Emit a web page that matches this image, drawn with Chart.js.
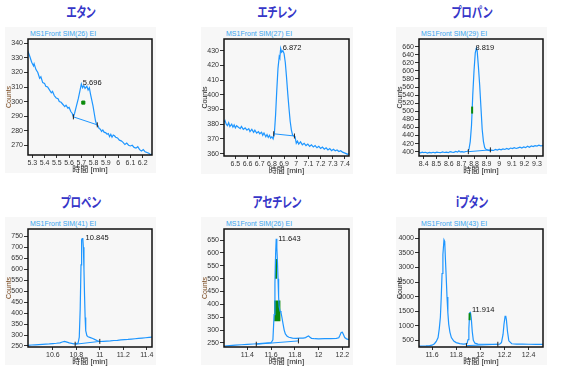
<!DOCTYPE html>
<html><head><meta charset="utf-8">
<script src="https://cdn.jsdelivr.net/npm/chart.js@4.4.1/dist/chart.umd.min.js"></script>
<style>
html,body{margin:0;padding:0;background:#fff;}
#root{position:relative;width:561px;height:380px;overflow:hidden;background:#fff;}
.bg{position:absolute;background:#f7f7f7;}
.ttl{position:absolute;font-family:"Noto Sans CJK JP";font-weight:bold;font-size:14px;color:#3636c8;white-space:nowrap;transform:translate(-50%,-50%) scaleX(0.75);font-feature-settings:"palt";line-height:1;}
.sub{position:absolute;font-family:"Liberation Sans",Arial,sans-serif;font-size:7px;color:#3aa4ee;white-space:nowrap;transform:translateY(-50%);line-height:1;}
canvas{position:absolute;}
</style></head>
<body><div id="root"></div>
<script>
// ---------- data ----------
const titles = ['エタン','エチレン','プロパン','プロペン','アセチレン','iブタン'];
const subtitles = ['MS1Front SIM(26) EI','MS1Front SIM(27) EI','MS1Front SIM(29) EI','MS1Front SIM(41) EI','MS1Front SIM(26) EI','MS1Front SIM(43) EI'];
const peakLabels = ['5.696','6.872','8.819','10.845','11.643','11.914'];
const peakLabelTime = [5.696, 6.872, 8.819, 10.845, 11.643, 11.914];
const peakLabelCounts = [313, 432, 656, 745, 655, 1530];

const ethaneTime = [5.265,5.28,5.295,5.31,5.315,5.33,5.345,5.36,5.37,5.385,
 5.40,5.41,5.425,5.44,5.455,5.465,5.48,5.495,5.51,5.52,
 5.535,5.55,5.565,5.575,5.59,5.60,5.615,5.625,5.635,5.645,
 5.66,5.675,5.69,5.70,5.71,5.72,5.73,5.745,5.755,5.765,
 5.775,5.785,5.795,5.805,5.815,5.825,5.835,5.845,5.855,5.865,
 5.875,5.885,5.90,5.91,5.92,5.93,5.94,5.95,5.96,5.97,
 5.98,5.995,6.01,6.025,6.04,6.055,6.07,6.085,6.10,6.115,
 6.13,6.145,6.16,6.175,6.19,6.205,6.22,6.235,6.25,6.265,
 6.276];
const ethaneCounts = [334.5,331,327,324.5,326,322,320,316,317,313,
 312.5,310.5,310,308,306,307,304,302.5,302,300,
 299.5,298,296.5,297.5,295.5,296,293,292,289.5,292,
 297,302,308,312,309.5,311,309,310.5,308,309.5,
 305,301,297,292,287,284,283.5,281.5,281,279.5,
 280.5,279,278.5,277.5,278,276,277.5,275.5,277,276.5,
 275.5,275,273.5,273,272,270.5,271.5,270,269.5,270,
 268.5,268,269,267,266,267,265.5,265,264.5,263.5,
 264];
const ethaneBaseTime = [5.635, 5.83];
const ethaneBaseCounts = [289.5, 284];
const ethaneMarkTime = [5.716];
const ethaneMarkCounts = [299.3];
const ethaneXTicks = [5.3,5.4,5.5,5.6,5.7,5.8,5.9,6,6.1,6.2];
const ethaneYTicks = [270,280,290,300,310,320,330,340];

const ethyleneTime = [6.407,6.415,6.425,6.435,6.445,6.455,6.47,6.48,6.49,6.50,
 6.51,6.525,6.54,6.55,6.565,6.58,6.595,6.61,6.62,6.635,
 6.65,6.66,6.675,6.69,6.70,6.715,6.725,6.735,6.75,6.76,
 6.77,6.78,6.79,6.80,6.81,6.82,6.83,6.84,6.85,6.86,
 6.865,6.872,6.88,6.89,6.90,6.91,6.92,6.93,6.94,6.95,
 6.96,6.97,6.98,6.99,7.00,7.01,7.02,7.035,7.05,7.065,
 7.08,7.095,7.11,7.125,7.14,7.155,7.17,7.185,7.20,7.215,
 7.23,7.245,7.26,7.275,7.29,7.305,7.32,7.335,7.35,7.365,
 7.38,7.395,7.41,7.42,7.433];
const ethyleneCounts = [381.5,382.5,380,379,381,378.5,380,378,379.5,377.5,
 379,378,377,378.5,376.5,377.5,376,377,375,376.5,
 374.5,376,374,375,373.5,374.5,372.5,374,371.5,373,
 371,372.5,370.5,371.5,370,373.5,386,403,418,426,
 425,431.5,429,430,428,422,412,401,391,382,
 376,372.5,372,371.5,367,368.5,366.5,368,366,367,
 365.5,366.5,365,366,364.5,365.5,364,365,363.5,364.5,
 363,364,362.5,363.5,362,363,362,362.5,361.5,362,
 361,360.5,360,359.5,360];
const ethyleneBaseTime = [6.815, 6.985];
const ethyleneBaseCounts = [373.5, 372];
const ethyleneXTicks = [6.5,6.6,6.7,6.8,6.9,7,7.1,7.2,7.3,7.4];
const ethyleneYTicks = [360,370,380,390,400,410,420,430];

const propaneTime = [8.363,8.375,8.39,8.40,8.415,8.43,8.445,8.46,8.475,8.49,
 8.505,8.52,8.535,8.55,8.565,8.58,8.595,8.61,8.625,8.64,
 8.655,8.67,8.68,8.69,8.705,8.72,8.735,8.75,8.76,8.77,
 8.78,8.79,8.80,8.81,8.819,8.825,8.835,8.845,8.855,8.865,
 8.875,8.885,8.895,8.91,8.925,8.94,8.955,8.97,8.985,9.00,
 9.015,9.03,9.045,9.06,9.075,9.09,9.105,9.12,9.135,9.15,
 9.165,9.18,9.195,9.21,9.225,9.24,9.255,9.27,9.285,9.30,
 9.315,9.33,9.348];
const propaneCounts = [398,397,399,397.5,398.5,396.5,398,397,398.5,397,
 399,398,397.5,399.5,398,399,397.5,400,399,398.5,
 400.5,399,402,399.5,400,399,400.5,401,406,425,
 465,540,600,645,656,650,610,565,510,455,
 425,410,406,404,402.5,404,403,405.5,404,406,
 404.5,407,405.5,408,406,409,407.5,410,408,409.5,
 411,409,412,410,413.5,411,414,412.5,415,414,
 416,414.5,415];
const propaneBaseTime = [8.755, 8.93];
const propaneBaseCounts = [400, 404.5];
const propaneMarkTime = [8.785];
const propaneMarkCounts = [503];
const propaneXTicks = [8.4,8.5,8.6,8.7,8.8,8.9,9,9.1,9.2,9.3];
const propaneYTicks = [400,420,440,460,480,500,520,540,560,580,600,620,640,660];

const propeneTime = [10.388,10.42,10.45,10.48,10.51,10.54,10.57,10.60,10.63,10.66,
 10.68,10.70,10.72,10.74,10.76,10.78,10.80,10.815,10.825,10.833,
 10.84,10.845,10.85,10.855,10.86,10.865,10.87,10.875,10.88,10.89,
 10.90,10.92,10.94,10.96,10.98,11.00,11.03,11.06,11.09,11.12,
 11.15,11.18,11.21,11.24,11.27,11.30,11.33,11.36,11.39,11.42,
 11.445];
const propeneCounts = [253,254.5,255.5,256.5,257.5,258.5,259.5,261,262.5,264.5,
 268,271,267.5,264,262,260,260.5,263,290,420,
 620,735,740,742,700,600,480,380,320,297,
 292,288,284,279,274,270.5,271.5,272.5,273.5,275,
 276,277.5,279,280,281.5,283,284.5,286,287.5,289,
 290];
const propeneBaseTime = [10.79, 11.0];
const propeneBaseCounts = [258, 271];
const propeneXTicks = [10.6,10.8,11,11.2,11.4];
const propeneYTicks = [250,300,350,400,450,500,550,600,650,700,750];

const acetyleneTime = [11.203,11.25,11.30,11.35,11.40,11.45,11.50,11.55,11.60,11.615,
 11.625,11.632,11.638,11.643,11.648,11.653,11.658,11.663,11.668,11.675,
 11.683,11.69,11.70,11.71,11.72,11.735,11.75,11.78,11.81,11.84,
 11.87,11.89,11.905,11.915,11.925,11.94,11.97,12.00,12.05,12.10,
 12.15,12.17,12.18,12.19,12.20,12.21,12.22,12.235,12.256];
const acetyleneCounts = [238,240,241.5,243,244.5,246,247.5,249,251,262,
 360,480,600,655,620,570,500,430,390,374,
 368,352,325,300,285,276,272,269,268,268.5,
 269,271,275,277,273,268,266.5,266,266.5,267,
 268,270,280,291,292,282,271,266,263];
const acetyleneBaseTime = [11.475, 11.83];
const acetyleneBaseCounts = [245, 258];
const acetyleneAreaTime = [[11.625, 11.68], [11.631, 11.65]];
const acetyleneAreaTop = [415, 577];
const acetyleneAreaBottom = [334, 500];
const acetyleneXTicks = [11.4,11.6,11.8,12,12.2];
const acetyleneYTicks = [250,300,350,400,450,500,550,600,650];

const ibutaneTime = [11.492,11.52,11.55,11.58,11.60,11.62,11.635,11.65,11.66,11.669,
 11.676,11.683,11.69,11.699,11.705,11.71,11.717,11.724,11.731,11.738,
 11.748,11.76,11.78,11.80,11.83,11.86,11.88,11.89,11.898,11.905,
 11.912,11.918,11.925,11.933,11.942,11.955,11.98,12.03,12.08,12.13,
 12.16,12.175,12.188,12.196,12.205,12.21,12.216,12.225,12.236,12.26,
 12.30,12.35,12.40,12.46,12.519];
const ibutaneCounts = [300,302,306,315,330,380,460,593,900,1288,
 1950,2795,3450,3954,3900,3374,2700,1983,1450,1056,
 780,593,470,420,385,370,372,390,520,900,
 1450,1460,1250,800,500,400,370,362,360,362,
 368,420,700,1050,1320,1335,1200,800,480,380,
 368,365,362,360,358];
const ibutaneBaseTime = [11.885, 12.145];
const ibutaneBaseCounts = [315, 362];
const ibutaneMarkTime = [11.911];
const ibutaneMarkCounts = [1310];
const ibutaneXTicks = [11.6,11.8,12,12.2,12.4];
const ibutaneYTicks = [500,1000,1500,2000,2500,3000,3500,4000];

// axis ranges [min, max]
const xRanges = [[5.265,6.276],[6.4067,7.433],[8.363,9.348],[10.388,11.445],[11.203,12.256],[11.492,12.519]];
const yRanges = [[263.3,343],[358.4,437.95],[389.3,679],[245.4,783.5],[234.3,693.3],[268,4324.5]];

// ---------- layout / style ----------
const BLUE = '#1e96ff';
const GREEN = '#0a8a0a';
const FONT = '"Liberation Sans", Arial, "Noto Sans CJK JP", sans-serif';
const plotRects = [[28,39,152,155],[224,39,349,156],[419,39,543,156],[28,229,152,347],[224,229,349,347],[419,229,543,347]];
const countsColors = ['#7a4a20','#222','#222','#7a4a20','#7a4a20','#222'];
const labelDx = [2,2,-1,4,2,2];

const framePlugin = {
  id: 'frame',
  afterDatasetsDraw(chart) {
    const a = chart.chartArea, ctx = chart.ctx;
    ctx.save();
    ctx.strokeStyle = '#111';
    ctx.lineWidth = 1.5;
    ctx.strokeRect(a.left, a.top, a.right - a.left, a.bottom - a.top);
    ctx.restore();
  }
};
const peakPlugin = {
  id: 'peakText',
  afterDatasetsDraw(chart, args, opts) {
    if (!opts || !opts.text) return;
    const ctx = chart.ctx;
    const px = chart.scales.x.getPixelForValue(opts.x) + opts.dx;
    const py = chart.scales.y.getPixelForValue(opts.y);
    ctx.save();
    ctx.font = '7.5px ' + FONT;
    ctx.fillStyle = '#111';
    ctx.textAlign = 'left';
    ctx.textBaseline = 'middle';
    ctx.fillText(opts.text, px, py);
    ctx.restore();
  }
};

function pts(xs, ys) { return xs.map((x, i) => ({x: x, y: ys[i]})); }

const series = [
  {t: ethaneTime, c: ethaneCounts, bt: ethaneBaseTime, bc: ethaneBaseCounts, xt: ethaneXTicks, yt: ethaneYTicks},
  {t: ethyleneTime, c: ethyleneCounts, bt: ethyleneBaseTime, bc: ethyleneBaseCounts, xt: ethyleneXTicks, yt: ethyleneYTicks},
  {t: propaneTime, c: propaneCounts, bt: propaneBaseTime, bc: propaneBaseCounts, xt: propaneXTicks, yt: propaneYTicks},
  {t: propeneTime, c: propeneCounts, bt: propeneBaseTime, bc: propeneBaseCounts, xt: propeneXTicks, yt: propeneYTicks},
  {t: acetyleneTime, c: acetyleneCounts, bt: acetyleneBaseTime, bc: acetyleneBaseCounts, xt: acetyleneXTicks, yt: acetyleneYTicks},
  {t: ibutaneTime, c: ibutaneCounts, bt: ibutaneBaseTime, bc: ibutaneBaseCounts, xt: ibutaneXTicks, yt: ibutaneYTicks}
];

const root = document.getElementById('root');
const A = 28, PT = 6, PR = 6, PB = 2, XH = 20;

series.forEach((s, i) => {
  const [L, T, R, B] = plotRects[i];
  const bg = document.createElement('div');
  bg.className = 'bg';
  bg.style.left = (L - 23) + 'px'; bg.style.top = (T - 12) + 'px';
  bg.style.width = (R + 4 - (L - 23)) + 'px'; bg.style.height = (B + 18 - (T - 12)) + 'px';
  root.appendChild(bg);

  const tt = document.createElement('div');
  tt.className = 'ttl'; tt.textContent = titles[i];
  tt.style.left = ((L - 23 + R + 4) / 2) + 'px'; tt.style.top = (T - 28) + 'px';
  root.appendChild(tt);

  const sb = document.createElement('div');
  sb.className = 'sub'; sb.textContent = subtitles[i];
  sb.style.left = (L + 2) + 'px'; sb.style.top = (T - 6) + 'px';
  root.appendChild(sb);

  const cv = document.createElement('canvas');
  const W = R - L + A + PR, H = B - T + PT + XH + PB;
  cv.width = W; cv.height = H;
  cv.style.left = (L - A) + 'px'; cv.style.top = (T - PT) + 'px';
  cv.style.width = W + 'px'; cv.style.height = H + 'px';
  root.appendChild(cv);

  const datasets = [];
  if (i === 4) {
    acetyleneAreaTime.forEach((xs, k) => {
      datasets.push({
        data: pts(xs, [acetyleneAreaTop[k], acetyleneAreaTop[k]]),
        borderWidth: 0, pointRadius: 0, backgroundColor: GREEN,
        fill: {value: acetyleneAreaBottom[k]}, order: 3
      });
    });
  }
  datasets.push({
    data: pts(s.t, s.c), borderColor: BLUE, borderWidth: 1.2, pointRadius: 0,
    tension: 0, fill: false, order: 2
  });
  datasets.push({
    data: pts(s.bt, s.bc), borderColor: BLUE, borderWidth: 1, fill: false,
    pointStyle: 'line', rotation: 90, pointRadius: 2.5, pointBorderColor: '#222',
    pointBorderWidth: 1, order: 1
  });
  if (i === 0) {
    datasets.push({data: pts(ethaneMarkTime, ethaneMarkCounts), showLine: false,
      pointStyle: 'rect', pointRadius: 2.2, pointBackgroundColor: GREEN, pointBorderColor: GREEN, order: 0});
  }
  if (i === 2) {
    datasets.push({data: pts(propaneMarkTime, propaneMarkCounts), showLine: false,
      pointStyle: 'line', rotation: 90, pointRadius: 3.5, pointBorderColor: GREEN, pointBorderWidth: 2, order: 0});
  }
  if (i === 5) {
    datasets.push({data: pts(ibutaneMarkTime, ibutaneMarkCounts), showLine: false,
      pointStyle: 'line', rotation: 90, pointRadius: 3.5, pointBorderColor: GREEN, pointBorderWidth: 2, order: 0});
  }

  const [xmin, xmax] = xRanges[i];
  const [ymin, ymax] = yRanges[i];
  new Chart(cv, {
    type: 'line',
    data: {datasets},
    options: {
      responsive: false, animation: false, devicePixelRatio: 1,
      layout: {padding: {left: 0, top: PT, right: PR, bottom: PB}},
      plugins: {
        legend: {display: false}, tooltip: {enabled: false},
        peakText: {text: peakLabels[i], x: peakLabelTime[i], y: peakLabelCounts[i], dx: labelDx[i]}
      },
      scales: {
        x: {
          type: 'linear', min: xmin, max: xmax, bounds: 'data',
          afterBuildTicks: sc => { sc.ticks = s.xt.map(v => ({value: v})); },
          afterFit: sc => { sc.height = XH; },
          ticks: {autoSkip: false, maxRotation: 0, minRotation: 0, padding: 1,
            callback: (v) => String(v),
            font: {size: 7, family: FONT}, color: '#333'},
          grid: {display: true, drawOnChartArea: false, drawTicks: true, tickLength: 3, color: '#333'},
          border: {display: false},
          title: {display: true, text: '時間 [min]', font: {size: 8, family: FONT}, color: '#222', padding: {top: 0, bottom: 0}}
        },
        y: {
          type: 'linear', min: ymin, max: ymax, bounds: 'data',
          afterBuildTicks: sc => { sc.ticks = s.yt.map(v => ({value: v})); },
          afterFit: sc => { sc.width = A; },
          ticks: {autoSkip: false, padding: 1, callback: (v) => String(v),
            font: {size: 7, family: FONT}, color: '#333'},
          grid: {display: true, drawOnChartArea: false, drawTicks: true, tickLength: 4, color: '#333'},
          border: {display: false},
          title: {display: true, text: 'Counts', font: {size: 7, family: FONT}, color: countsColors[i], padding: {top: 5, bottom: 0}}
        }
      }
    },
    plugins: [framePlugin, peakPlugin]
  });
});
</script>
</body></html>
